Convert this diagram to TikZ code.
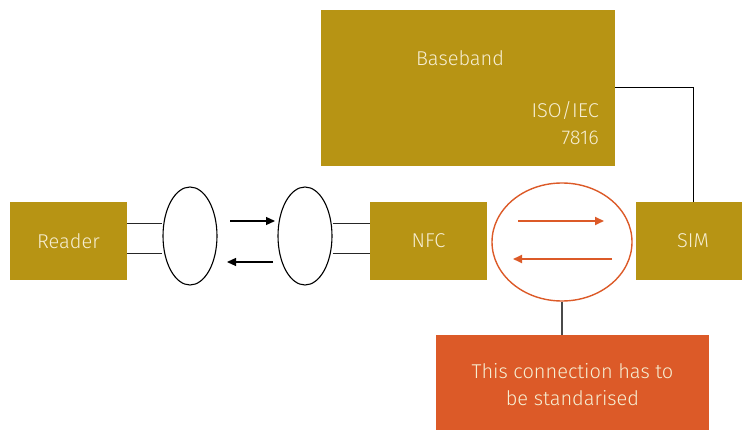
\documentclass[tikz,border=0pt]{standalone}
\usepackage{fontspec}
\setmainfont{Fira Sans}[UprightFont=* Light]
\usetikzlibrary{arrows.meta,shapes.geometric}
\definecolor{gold}{HTML}{B79414}
\definecolor{rust}{HTML}{DC5A28}
\definecolor{cream}{HTML}{F6EED2}
\definecolor{wire}{HTML}{4A4A4A}
\tikzset{
  lbl/.style={text=cream, font=\fontsize{20}{27}\selectfont},
  block/.style={lbl, fill=gold, draw=none, inner sep=0pt},
  note/.style={lbl, fill=rust, draw=none, inner sep=0pt, align=center},
  coil/.style={ellipse, draw=black, line width=1.1pt, inner sep=0pt},
  lead/.style={draw=black!85, line width=0.9pt},
  flow/.style={draw=black, line width=1.2pt, -{Triangle[length=9pt,width=8pt]}},
  rflow/.style={draw=rust, line width=1.8pt, -{Triangle[length=9pt,width=8pt]}},
  link/.style={draw=wire, line width=1.2pt}
}
\begin{document}
\begin{tikzpicture}[x=1pt,y=-1pt]
\useasboundingbox (0,0) rectangle (742,430);
\clip (0,0) rectangle (742,430);
% blocks
\node[block, minimum width=294pt, minimum height=156pt] (bb) at (468,88) {};
\node[lbl] (bbl) at (460,58) {Baseband};
\node[lbl, align=right, anchor=east, inner sep=0pt] (iso) at (599,123) {ISO/IEC\\7816};
\node[block, minimum width=117pt, minimum height=78pt] (rd) at (68.5,241) {Reader};
\node[block, minimum width=117pt, minimum height=78pt] (nfc) at (428.5,241) {NFC};
\node[block, minimum width=114pt, minimum height=78pt] (sim) at (693,241) {SIM};
\node[note, minimum width=273pt, minimum height=100pt] (nt) at (572.5,385) {This connection has to\\be standarised};
% antenna coils
\node[coil, minimum width=54pt, minimum height=98pt] (c1) at (190,236) {};
\node[coil, minimum width=54pt, minimum height=98pt] (c2) at (305,236) {};
\node[ellipse, draw=rust, line width=1.4pt, minimum width=140pt, minimum height=118pt, inner sep=0pt] (ce) at (562,242) {};
% leads
\draw[lead] (rd.east |- 0,223) -- (c1.west |- 0,223);
\draw[lead] (rd.east |- 0,253) -- (c1.west |- 0,253);
\draw[lead] (c2.east |- 0,223) -- (nfc.west |- 0,223);
\draw[lead] (c2.east |- 0,253) -- (nfc.west |- 0,253);
% field arrows
\coordinate (a1) at (230,221); \coordinate (a2) at (275,221);
\coordinate (b1) at (273,262); \coordinate (b2) at (227,262);
\draw[flow] (a1) -- (a2);
\draw[flow] (b1) -- (b2);
\coordinate (r1) at (518,221); \coordinate (r2) at (604,221);
\coordinate (s1) at (612,259); \coordinate (s2) at (513,259);
\draw[rflow] (r1) -- (r2);
\draw[rflow] (s1) -- (s2);
% wiring
\draw[draw=black, line width=0.9pt] (bb.east |- 0,87) -| (sim.north);
\draw[link] (ce.south) -- (ce.south |- nt.north);
\end{tikzpicture}
\end{document}
